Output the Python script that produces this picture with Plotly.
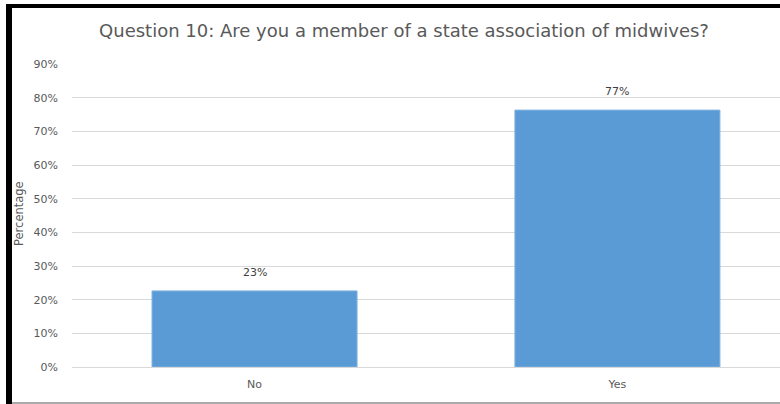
import plotly.graph_objects as go

# ---- data ----
categories = ["No", "Yes"]
percentages = [22.6, 76.3]
value_labels = ["23%", "77%"]
y_ticks = [0, 10, 20, 30, 40, 50, 60, 70, 80, 90]
y_tick_labels = [f"{t}%" for t in y_ticks]

title_text = "Question 10: Are you a member of a state association of midwives?"
y_title = "Percentage"

W, H = 780, 404
L, R_EDGE, T, B_EDGE = 72, 780, 64, 367  # plot area in pixels


def px(x):
    return (x - L) / (R_EDGE - L)


def py(y):
    return (B_EDGE - y) / (B_EDGE - T)


FONT = "'DejaVu Sans', sans-serif"
GREY = "#595959"

fig = go.Figure()
fig.add_trace(go.Bar(
    x=categories,
    y=percentages,
    width=0.565,
    marker=dict(color="#5B9BD5", line=dict(color="#7fb2e0", width=1)),
    hoverinfo="skip",
))

for c, v, lab in zip(categories, percentages, value_labels):
    fig.add_annotation(
        x=c, y=v, text=lab, showarrow=False, yanchor="bottom",
        yshift=10, font=dict(family=FONT, size=11, color="#404040"),
    )

fig.add_annotation(
    xref="paper", yref="paper", x=px(19), y=py(214), text=y_title,
    textangle=-90, showarrow=False, xanchor="center", yanchor="middle",
    font=dict(family=FONT, size=11.5, color=GREY),
)

# frame lines (black left/top, grey bottom)
shapes = [
    dict(type="rect", xref="paper", yref="paper", x0=px(6), x1=px(12),
         y0=py(404), y1=py(4), fillcolor="black", line=dict(width=0)),
    dict(type="rect", xref="paper", yref="paper", x0=px(6), x1=px(780),
         y0=py(8), y1=py(4), fillcolor="black", line=dict(width=0)),
    dict(type="rect", xref="paper", yref="paper", x0=px(12), x1=px(780),
         y0=py(404), y1=py(402), fillcolor="#ababab", line=dict(width=0)),
]

fig.update_layout(
    width=W, height=H,
    margin=dict(l=L, r=W - R_EDGE, t=T, b=H - B_EDGE, pad=0),
    paper_bgcolor="white", plot_bgcolor="white",
    showlegend=False,
    shapes=shapes,
    title=dict(text=title_text, x=404 / W, xanchor="center",
               y=1 - 31 / H, yanchor="middle",
               font=dict(family=FONT, size=18, color=GREY)),
    xaxis=dict(
        range=[-0.503, 1.448], showgrid=False, showline=False, zeroline=False,
        ticks="", ticklabelstandoff=9,
        tickfont=dict(family=FONT, size=11, color=GREY),
    ),
    yaxis=dict(
        range=[0, 90], tickvals=y_ticks, ticktext=y_tick_labels,
        showgrid=True, gridcolor="#d9d9d9", gridwidth=1,
        zeroline=True, zerolinecolor="#d9d9d9", zerolinewidth=1,
        showline=False, ticks="", ticklabelstandoff=13,
        tickfont=dict(family=FONT, size=11, color=GREY),
    ),
)

fig.write_html("out.html")
